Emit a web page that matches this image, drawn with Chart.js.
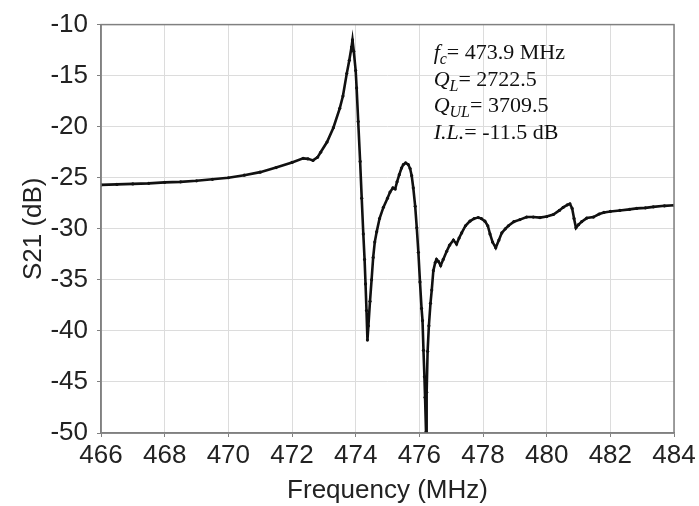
<!DOCTYPE html>
<html>
<head>
<meta charset="utf-8">
<script src="https://cdn.jsdelivr.net/npm/chart.js@4"></script>
<style>
  html, body { margin: 0; padding: 0; background: #fff; }
  #wrap { width: 699px; height: 506px; }
</style>
</head>
<body>
<div id="wrap"><canvas id="s21-chart"></canvas></div>
<script>
const freqMHz = [
  466.0, 466.5, 467.0, 467.5, 468.0, 468.5, 469.0, 469.5, 470.0, 470.5,
  471.0, 471.5, 472.0, 472.35, 472.5, 472.66, 472.8, 472.9, 473.1, 473.3,
  473.5, 473.6, 473.72, 473.8, 473.87, 473.9, 473.94, 474.0, 474.03, 474.08,
  474.14, 474.19, 474.24, 474.28, 474.31, 474.34, 474.37, 474.4, 474.45, 474.5,
  474.55, 474.6, 474.66, 474.75, 474.87, 475.0, 475.08, 475.17, 475.24, 475.3,
  475.37, 475.44, 475.5, 475.57, 475.65, 475.71, 475.76, 475.81, 475.87, 475.92,
  475.97, 476.02, 476.07, 476.1, 476.13, 476.16, 476.18, 476.21, 476.23, 476.26,
  476.3, 476.35, 476.39, 476.44, 476.5, 476.54, 476.6, 476.67, 476.75, 476.86,
  476.95, 477.07, 477.17, 477.25, 477.33, 477.45, 477.59, 477.72, 477.85, 477.95,
  478.06, 478.15, 478.22, 478.3, 478.4, 478.5, 478.59, 478.7, 478.8, 478.97,
  479.16, 479.37, 479.58, 479.79, 480.0, 480.21, 480.4, 480.52, 480.65, 480.73,
  480.8, 480.86, 480.92, 481.0, 481.1, 481.26, 481.47, 481.65, 481.8, 482.0,
  482.3, 482.6, 482.83, 483.1, 483.35, 483.7, 484.0
];
const s21dB = [
  -25.7, -25.65, -25.6, -25.55, -25.45, -25.4, -25.3, -25.15, -25.0, -24.75,
  -24.45, -24.0, -23.5, -23.1, -23.15, -23.3, -23.0, -22.5, -21.5, -20.1,
  -18.2, -17.0, -14.8, -13.5, -12.2, -11.5, -12.6, -14.5, -16.2, -19.5,
  -23.4, -27.0, -30.5, -33.0, -35.4, -38.0, -40.9, -39.5, -37.1, -35.0,
  -32.8, -31.3, -30.3, -29.0, -27.9, -27.0, -26.4, -26.0, -26.1, -25.4,
  -24.7, -24.05, -23.7, -23.55, -23.7, -24.1, -24.8, -26.0, -27.8, -29.9,
  -32.3, -35.2, -37.8, -39.0, -41.9, -44.5, -46.5, -49.9, -46.0, -42.0,
  -39.5, -37.3, -36.0, -34.1, -33.3, -33.0, -33.2, -33.6, -33.0, -32.2,
  -31.6, -31.1, -31.5, -30.9, -30.4, -29.7, -29.25, -29.0, -28.9, -29.0,
  -29.25, -29.7, -30.5, -31.3, -31.85, -31.1, -30.4, -30.0, -29.7, -29.3,
  -29.1, -28.85, -28.85, -28.9, -28.8, -28.6, -28.2, -27.9, -27.65, -27.55,
  -28.0, -29.0, -29.9, -29.6, -29.3, -28.95, -28.85, -28.55, -28.4, -28.3,
  -28.2, -28.1, -28.0, -27.95, -27.85, -27.75, -27.7
];

const xTicks = [466, 468, 470, 472, 474, 476, 478, 480, 482, 484];
const yTicks = [-50, -45, -40, -35, -30, -25, -20, -15, -10];

// annotation lines: symbol, subscript, rest
const noteSymbols = ['f', 'Q', 'Q', 'I.L.'];
const noteSubs = ['c', 'L', 'UL', ''];
const noteValues = ['= 473.9 MHz', '= 2722.5', '= 3709.5', '= -11.5 dB'];

const points = freqMHz.map((f, i) => ({ x: f, y: s21dB[i] }));

const frameBox = {
  id: 'frameBox',
  afterDraw(chart) {
    const { ctx, chartArea: a } = chart;
    ctx.save();
    ctx.strokeStyle = '#808080';
    ctx.lineWidth = 1.5;
    ctx.strokeRect(a.left, a.top, a.right - a.left, a.bottom - a.top);
    ctx.restore();
  }
};

const notes = {
  id: 'notes',
  afterDraw(chart) {
    const { ctx, scales } = chart;
    const x0 = scales.x.getPixelForValue(476.45);
    let y = scales.y.getPixelForValue(-13.35);
    ctx.save();
    ctx.fillStyle = '#111';
    ctx.textBaseline = 'alphabetic';
    for (let i = 0; i < noteSymbols.length; i++) {
      let x = x0;
      ctx.font = 'italic 22px "Liberation Serif", "Times New Roman", serif';
      ctx.fillText(noteSymbols[i], x, y);
      x += ctx.measureText(noteSymbols[i]).width;
      if (noteSubs[i]) {
        ctx.font = 'italic 16px "Liberation Serif", "Times New Roman", serif';
        ctx.fillText(noteSubs[i], x, y + 5);
        x += ctx.measureText(noteSubs[i]).width;
      }
      ctx.font = '22px "Liberation Serif", "Times New Roman", serif';
      ctx.fillText(noteValues[i], x, y);
      y += 26.8;
    }
    ctx.restore();
  }
};

function s21Chart() {
  const el = document.getElementById('s21-chart');
  new Chart(el, {
    type: 'line',
    data: {
      datasets: [{
        label: 'S21',
        data: points,
        borderColor: '#111',
        backgroundColor: '#111',
        borderWidth: 2.6,
        pointRadius: 1.6,
        pointBorderWidth: 0,
        fill: false,
        tension: 0
      }]
    },
    options: {
      responsive: true,
      maintainAspectRatio: false,
      animation: false,
      layout: { padding: { top: 23, right: 25, left: 18, bottom: 0 } },
      plugins: { legend: { display: false }, tooltip: { enabled: false } },
      scales: {
        x: {
          type: 'linear',
          min: 466,
          max: 484,
          afterBuildTicks: s => { s.ticks = xTicks.map(v => ({ value: v })); },
          afterFit: s => { s.height = 73; },
          ticks: {
            color: '#222',
            font: { family: '"Liberation Sans", Arial, sans-serif', size: 26 },
            padding: 3,
            maxRotation: 0
          },
          grid: { color: '#dcdcdc', lineWidth: 1, tickLength: 4, tickColor: '#808080' },
          border: { color: '#808080', width: 1.5 },
          title: {
            display: true,
            text: 'Frequency (MHz)',
            color: '#222',
            font: { family: '"Liberation Sans", Arial, sans-serif', size: 26 },
            padding: { top: 0, bottom: 0 }
          }
        },
        y: {
          min: -50,
          max: -10,
          afterBuildTicks: s => { s.ticks = yTicks.map(v => ({ value: v })); },
          afterFit: s => { s.width = 83; },
          ticks: {
            color: '#222',
            font: { family: '"Liberation Sans", Arial, sans-serif', size: 26 },
            padding: 9
          },
          grid: { color: '#dcdcdc', lineWidth: 1, tickLength: 4, tickColor: '#808080' },
          border: { color: '#808080', width: 1.5 },
          title: {
            display: true,
            text: 'S21 (dB)',
            color: '#222',
            font: { family: '"Liberation Sans", Arial, sans-serif', size: 26 },
            padding: 0
          }
        }
      }
    },
    plugins: [frameBox, notes]
  });
}

s21Chart();
</script>
</body>
</html>
